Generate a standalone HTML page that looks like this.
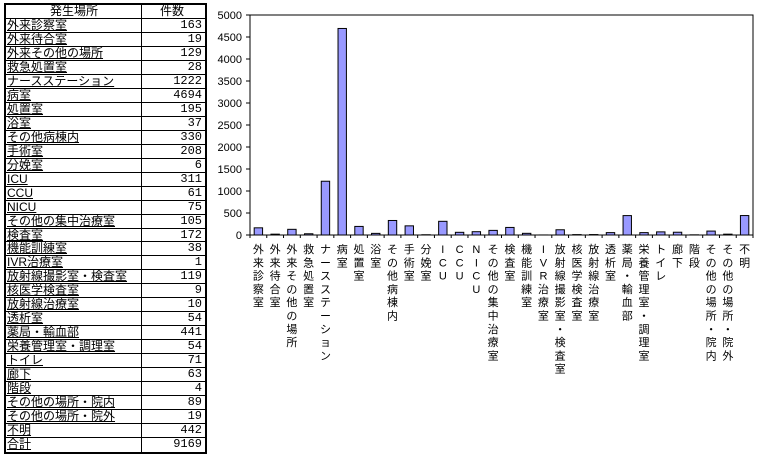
<!DOCTYPE html>
<html><head><meta charset="utf-8">
<style>
body{margin:0;width:761px;height:460px;background:#fff;position:relative;overflow:hidden;font-family:"Liberation Sans","Noto Sans CJK JP",sans-serif;}
#tbl{position:absolute;left:4px;top:3px;width:203px;height:451px;border:2px solid #000;box-sizing:border-box;}
.row{position:absolute;left:0;width:199px;border-bottom:1px solid #000;box-sizing:border-box;font-size:12px;line-height:13px;}
.c1{position:absolute;left:1px;top:0;width:134px;height:100%;border-right:1px solid #000;white-space:nowrap;overflow:hidden;}
.c2{position:absolute;left:136px;top:0;width:60px;height:100%;text-align:right;font-family:"Liberation Mono",monospace;font-size:12px;}
.c1.l{text-decoration:underline;}
.hd .c1,.hd .c2{text-align:center;font-family:"Liberation Sans","Noto Sans CJK JP",sans-serif;}
</style></head><body>
<div id="tbl"></div>
<svg id="chart" width="761" height="460" style="position:absolute;left:0;top:0"></svg>
<script>
const categories=["外来診察室","外来待合室","外来その他の場所","救急処置室","ナースステーション","病室","処置室","浴室","その他病棟内","手術室","分娩室","ICU","CCU","NICU","その他の集中治療室","検査室","機能訓練室","IVR治療室","放射線撮影室・検査室","核医学検査室","放射線治療室","透析室","薬局・輸血部","栄養管理室・調理室","トイレ","廊下","階段","その他の場所・院内","その他の場所・院外","不明"];
const values=[163,19,129,28,1222,4694,195,37,330,208,6,311,61,75,105,172,38,1,119,9,10,54,441,54,71,63,4,89,19,442];
const total=9169;
const yTicks=[0,500,1000,1500,2000,2500,3000,3500,4000,4500,5000];

// table
const tbl=document.getElementById('tbl');
const RH=447/(categories.length+2);
function addRow(i,a,b,cls,last){
  const r=document.createElement('div');
  r.className='row '+cls;
  r.style.top=(i*RH)+'px';
  r.style.height=RH+'px';
  if(last) r.style.borderBottom='none';
  
  
  const c1=document.createElement('div');c1.className='c1'+(cls==='hd'?'':' l');c1.textContent=a;
  const c2=document.createElement('div');c2.className='c2';c2.textContent=b;
  r.appendChild(c1);r.appendChild(c2);tbl.appendChild(r);
}
addRow(0,'発生場所','件数','hd');
categories.forEach((c,i)=>addRow(i+1,c,String(values[i]),'bd'));
addRow(categories.length+1,'合計',String(total),'bd',true);

// chart
const NS="http://www.w3.org/2000/svg";
const svg=document.getElementById('chart');
const L=250,R=753,T=15,B=235,yMax=5000;
function el(t,a){const e=document.createElementNS(NS,t);for(const k in a)e.setAttribute(k,a[k]);svg.appendChild(e);return e;}
const N=categories.length;
const bw=(R-L)/N;
function xPos(i){return L+i*bw;}
function yPos(v){return B-(v/yMax)*(B-T);}
const box=el('rect',{x:L,y:T,width:R-L,height:B-T,fill:'none',stroke:'#000','stroke-width':1});


yTicks.forEach(t=>{
  const y=yPos(t);
  el('line',{x1:L-4,x2:L,y1:y,y2:y,stroke:'#000'});
  const tx=el('text',{x:L-8,y:y+4,'text-anchor':'end','font-size':'11px','font-family':'"Liberation Sans",sans-serif'});
  tx.textContent=t;
  
  
});
for(let i=0;i<=N;i++){el('line',{x1:xPos(i),x2:xPos(i),y1:B,y2:B+3,stroke:'#000'});}
values.forEach((v,i)=>{
  const x=xPos(i)+bw*0.25, y=yPos(v);
  const r=el('rect',{x:x,y:y,width:bw*0.5,height:B-y,fill:'#9999ff',stroke:'#000','stroke-width':1});
  
  
  const g=el('text',{'font-size':'11px','font-family':'"Liberation Sans","Noto Sans CJK JP",sans-serif','text-anchor':'middle'});
  
  
  [...categories[i]].forEach((ch,k)=>{
    const s=document.createElementNS(NS,'tspan');
    s.setAttribute('x',xPos(i)+bw/2);
    s.setAttribute('y',253+k*13.3);
    s.textContent=ch;
    g.appendChild(s);
  });
});
</script>
</body></html>
